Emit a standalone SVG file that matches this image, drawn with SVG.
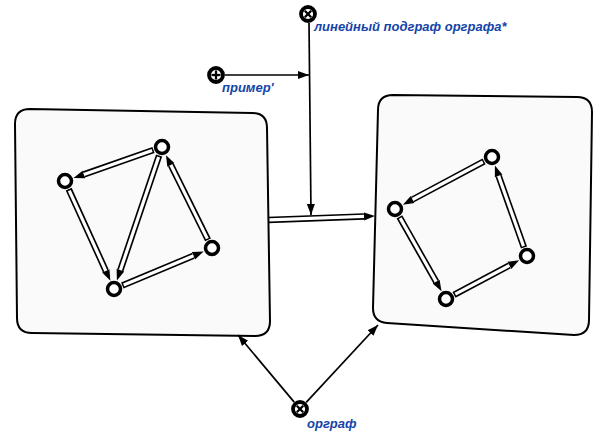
<svg xmlns="http://www.w3.org/2000/svg" width="607" height="440" viewBox="0 0 607 440">
<style>
.box{fill:#fafafa;stroke:#000;stroke-width:2}
.nd{fill:#fff;stroke:#000;stroke-width:3.5}
.ho{stroke:#000;stroke-width:6.5;fill:none;marker-end:url(#hh)}
.hi{stroke:#fff;stroke-width:3.2;fill:none}
.th{stroke:#000;stroke-width:1.7;fill:none;marker-end:url(#th)}
.sym{fill:#fff;stroke:#000;stroke-width:3.8}
.x{stroke:#000;stroke-width:2.3}
.lbl{font-family:"Liberation Sans",Arial,sans-serif;font-size:13px;font-weight:bold;font-style:italic;fill:#1544a8}
</style>
<defs>
<marker id="hh" viewBox="0 -5 11 10" markerWidth="11" markerHeight="10" refX="0" refY="0" orient="auto" markerUnits="userSpaceOnUse">
<path d="M0,-4 L11,0 L0,4 Z" fill="#000"/>
</marker>
<marker id="th" viewBox="0 -5 11 10" markerWidth="11" markerHeight="10" refX="11" refY="0" orient="auto" markerUnits="userSpaceOnUse">
<path d="M0,-4 L11,0 L0,4 Z" fill="#000"/>
</marker>
</defs>

<g id="box-left">
<path class="box" d="M30,109 L252,113 Q267,113 267,128 L270,321 Q270,336 255,336 L32,333 Q17,333 17,318 L15,124 Q15,109 30,109 Z"/>
</g>
<g id="box-right">
<path class="box" d="M393,95 L577,97 Q592,97 592,112 L589,320 Q589,335 574,335 L387,323 Q373,322 373,308 L378,110 Q378,95 393,95 Z"/>
</g>

<g id="connectors">
<line class="ho" x1="153.5" y1="150.0" x2="83.9" y2="174.4"/><line class="hi" x1="152.1" y1="150.5" x2="83.9" y2="174.4"/>
<line class="ho" x1="68.7" y1="189.2" x2="105.8" y2="270.8"/><line class="hi" x1="69.3" y1="190.6" x2="105.8" y2="270.8"/>
<line class="ho" x1="159.1" y1="155.5" x2="120.4" y2="270.1"/><line class="hi" x1="158.6" y1="156.9" x2="120.4" y2="270.1"/>
<line class="ho" x1="122.3" y1="285.5" x2="193.5" y2="255.8"/><line class="hi" x1="123.7" y1="284.9" x2="193.5" y2="255.8"/>
<line class="ho" x1="208.0" y1="239.9" x2="170.9" y2="165.0"/><line class="hi" x1="207.3" y1="238.6" x2="170.9" y2="165.0"/>
<line class="ho" x1="484.1" y1="161.3" x2="412.6" y2="199.5"/><line class="hi" x1="482.8" y1="162.0" x2="412.6" y2="199.5"/>
<line class="ho" x1="399.4" y1="216.8" x2="436.1" y2="281.6"/><line class="hi" x1="400.2" y1="218.1" x2="436.1" y2="281.6"/>
<line class="ho" x1="454.0" y1="294.8" x2="509.4" y2="265.4"/><line class="hi" x1="455.3" y1="294.1" x2="509.4" y2="265.4"/>
<line class="ho" x1="524.0" y1="247.5" x2="498.6" y2="175.9"/><line class="hi" x1="523.5" y1="246.1" x2="498.6" y2="175.9"/>
<line class="ho" x1="268" y1="220" x2="364.0" y2="216.4"/><line class="hi" x1="269.5" y1="219.9" x2="364.0" y2="216.4"/>
<line class="th" x1="309" y1="23" x2="311" y2="215"/>
<line class="th" x1="225" y1="75" x2="309" y2="75"/>
<line class="th" x1="294.2" y1="402.1" x2="238" y2="335"/>
<line class="th" x1="306.2" y1="402.4" x2="378" y2="325"/>
</g>

<g id="nodes-left">
<circle class="nd" cx="162" cy="147" r="6.5"/>
<circle class="nd" cx="65" cy="181" r="6.5"/>
<circle class="nd" cx="114" cy="289" r="6.5"/>
<circle class="nd" cx="212" cy="248" r="6.5"/>
</g>
<g id="nodes-right">
<circle class="nd" cx="492" cy="157" r="6.5"/>
<circle class="nd" cx="395" cy="209" r="6.5"/>
<circle class="nd" cx="446" cy="299" r="6.5"/>
<circle class="nd" cx="527" cy="256" r="6.5"/>
</g>

<g id="sym-line-subgraph">
<circle class="sym" cx="308" cy="14" r="7"/>
<line class="x" x1="304.8" y1="10.8" x2="311.2" y2="17.2"/><line class="x" x1="311.2" y1="10.8" x2="304.8" y2="17.2"/>
<text class="lbl" x="314" y="31">линейный подграф орграфа*</text>
</g>
<g id="sym-example">
<circle class="sym" cx="216" cy="75" r="7"/>
<line class="x" x1="211.5" y1="75" x2="220.5" y2="75"/><line class="x" x1="216" y1="70.5" x2="216" y2="79.5"/>
<text class="lbl" x="222" y="92">пример'</text>
</g>
<g id="sym-digraph">
<circle class="sym" cx="300" cy="409" r="7"/>
<line class="x" x1="296.8" y1="405.8" x2="303.2" y2="412.2"/><line class="x" x1="303.2" y1="405.8" x2="296.8" y2="412.2"/>
<text class="lbl" x="307" y="428">орграф</text>
</g>
</svg>
